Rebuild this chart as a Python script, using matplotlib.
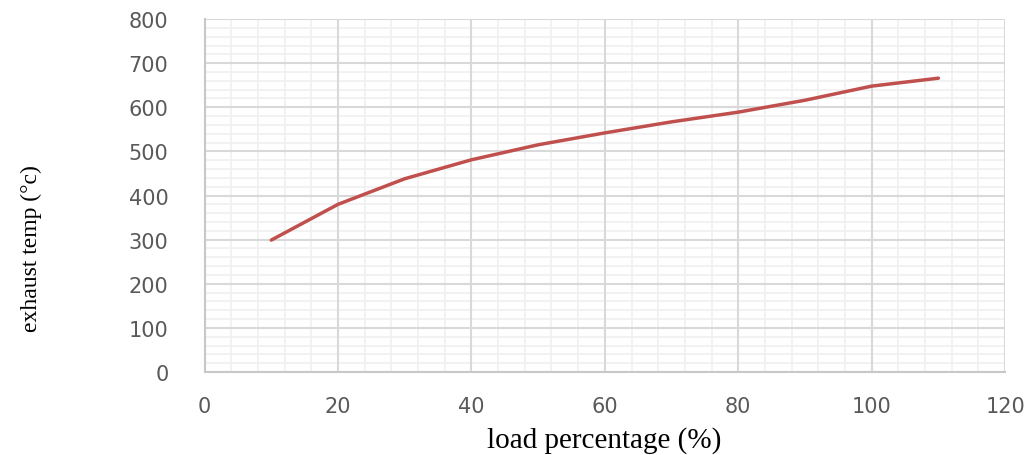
import numpy as np
import matplotlib.pyplot as plt
from matplotlib.ticker import MultipleLocator

# load percentage vs exhaust temperature
load = [10, 20, 30, 40, 50, 60, 70, 80, 90, 100, 110]
temp = [299, 380, 438, 481, 515, 542, 567, 589, 616, 648, 666]

fig = plt.figure(figsize=(10.33, 4.56), dpi=100)
ax = fig.add_axes([0.198, 0.182, 0.775, 0.774])

ax.plot(load, temp, color='#C0504D', lw=2.5, solid_capstyle='round', zorder=3)

ax.set_xlim(0, 120)
ax.set_ylim(0, 800)
ax.xaxis.set_major_locator(MultipleLocator(20))
ax.xaxis.set_minor_locator(MultipleLocator(4))
ax.yaxis.set_major_locator(MultipleLocator(100))
ax.yaxis.set_minor_locator(MultipleLocator(20))

# light minor grid, heavier major grid on top of it
ax.grid(which='minor', color='#F0F0F0', lw=1.2)
ax.set_axisbelow(True)
for v in ax.get_xticks():
    ax.axvline(v, color='#D9D9D9', lw=1.5, zorder=1)
for v in ax.get_yticks():
    ax.axhline(v, color='#D9D9D9', lw=1.5, zorder=1)

for s in ['top', 'right']:
    ax.spines[s].set_visible(False)
for s in ['left', 'bottom']:
    ax.spines[s].set_color('#C8C8C8')
    ax.spines[s].set_linewidth(1.5)
    ax.spines[s].set_zorder(2)

ax.tick_params(which='both', length=0)
ax.tick_params(axis='x', pad=17, labelsize=15, labelcolor='#595959')
ax.tick_params(axis='y', pad=26, labelsize=15, labelcolor='#595959')

fig.text(0.585, 0.033, 'load percentage (%)', family='Liberation Serif',
         fontsize=21, ha='center', va='center')
fig.text(0.03, 0.456, 'exhaust temp (°c)', family='Liberation Serif',
         fontsize=17, ha='center', va='center', rotation=90)

fig.savefig('out.png', dpi=100)
